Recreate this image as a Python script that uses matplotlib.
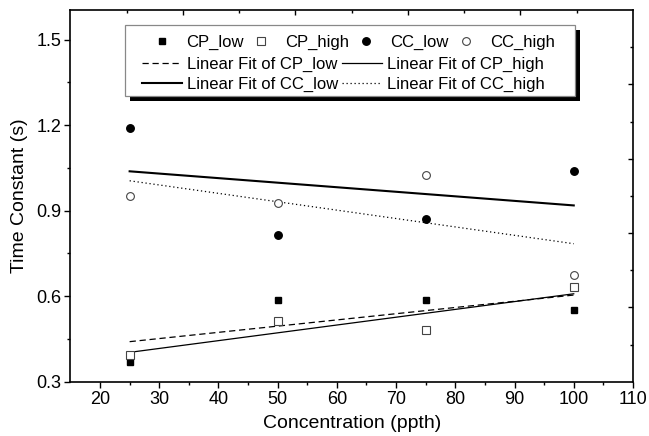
import numpy as np
import matplotlib
matplotlib.use('Agg')
import matplotlib.pyplot as plt
from matplotlib.patches import Rectangle
from matplotlib.lines import Line2D

plt.rcParams['font.family'] = ['Liberation Sans', 'DejaVu Sans']

conc = [25, 50, 75, 100]
cp_low = [0.368, 0.586, 0.585, 0.550]
cp_high = [0.395, 0.512, 0.483, 0.633]
cc_low = [1.189, 0.816, 0.870, 1.038]
cc_high = [0.951, 0.928, 1.026, 0.673]

x_ticks = [20, 30, 40, 50, 60, 70, 80, 90, 100, 110]
y_ticks = [0.3, 0.6, 0.9, 1.2, 1.5]

fig = plt.figure(figsize=(6.49, 4.36), dpi=100)
ax = fig.add_axes([0.1085, 0.1245, 0.8668, 0.8526])

ms = 4.8
ax.plot(conc, cp_low, ls='none', marker='s', ms=ms, mfc='black', mec='black', zorder=3)
ax.plot(conc, cp_high, ls='none', marker='s', ms=ms + 0.6, mfc='white', mec='#444444', mew=0.8, zorder=3)
ax.plot(conc, cc_low, ls='none', marker='o', ms=ms + 0.6, mfc='black', mec='black', zorder=3)
ax.plot(conc, cc_high, ls='none', marker='o', ms=ms + 0.8, mfc='white', mec='#444444', mew=0.8, zorder=3)

xs = np.array([conc[0], conc[-1]])
fits = [
    (cp_low, dict(color='black', lw=0.9, ls=(0, (5, 3)))),
    (cp_high, dict(color='black', lw=0.9, ls='-')),
    (cc_low, dict(color='black', lw=1.5, ls='-')),
    (cc_high, dict(color='black', lw=0.9, ls=(0, (1, 2.2)))),
]
for ys, style in fits:
    k, b = np.polyfit(conc, ys, 1)
    ax.plot(xs, k * xs + b, **style, zorder=2)

ax.set_xlim(15, 110)
ax.set_ylim(0.3, 1.604)
ax.set_xticks(x_ticks)
ax.set_xticks(np.arange(25, 110, 10), minor=True)
ax.set_yticks(y_ticks)
ax.set_yticks([0.45, 0.75, 1.05, 1.35], minor=True)
ax.set_yticklabels([f'{v:.1f}' for v in y_ticks])
ax.tick_params(which='major', direction='out', length=4.5, width=1.0, labelsize=13, pad=2)
ax.tick_params(which='minor', direction='out', length=2.5, width=1.0)
for s in ax.spines.values():
    s.set_linewidth(1.2)

ax.set_xlabel('Concentration (ppth)', fontsize=14, labelpad=5)
ax.set_ylabel('Time Constant (s)', fontsize=14, labelpad=6)

# decorative inward ticks on top and right edges
top = ax.twiny()
top.set_xlim(0, 10)
top.set_xticks([2, 4, 6, 8])
top.set_xticks([1, 3, 5, 7, 9], minor=True)
top.tick_params(which='major', direction='in', length=3.5, width=1.0, labeltop=False)
top.tick_params(which='minor', direction='in', length=2.0, width=1.0)
right = ax.twinx()
right.set_ylim(0, 10)
right.set_yticks([2, 4, 6, 8])
right.set_yticks([1, 3, 5, 7, 9], minor=True)
right.tick_params(which='major', direction='in', length=3.5, width=1.0, labelright=False)
right.tick_params(which='minor', direction='in', length=2.0, width=1.0)
for a in (top, right):
    for s in a.spines.values():
        s.set_visible(False)

# legend box with shadow
bx0, by0, bx1, by1 = 0.0970, 0.7686, 0.8970, 0.9597
dx, dy = 5 / 562.6, 5 / 371.7
right.add_patch(Rectangle((bx0 + dx, by0 - dy), bx1 - bx0, by1 - by0, transform=ax.transAxes,
                          facecolor='black', edgecolor='none', zorder=5))
right.add_patch(Rectangle((bx0, by0), bx1 - bx0, by1 - by0, transform=ax.transAxes,
                          facecolor='white', edgecolor='#888888', lw=0.9, zorder=6))

mk_handles = [
    Line2D([], [], ls='none', marker='s', ms=ms, mfc='black', mec='black'),
    Line2D([], [], ls='none', marker='s', ms=ms + 0.6, mfc='white', mec='#444444', mew=0.8),
    Line2D([], [], ls='none', marker='o', ms=ms + 0.6, mfc='black', mec='black'),
    Line2D([], [], ls='none', marker='o', ms=ms + 0.8, mfc='white', mec='#444444', mew=0.8),
]
mk_labels = ['CP_low', 'CP_high', 'CC_low', 'CC_high']
leg1 = right.legend(mk_handles, mk_labels, ncol=4, frameon=False, fontsize=12,
                    loc='center left', bbox_to_anchor=(0.1326, 0.9120), bbox_transform=ax.transAxes,
                    borderpad=0, borderaxespad=0, handlelength=2.0, handletextpad=0.44,
                    columnspacing=0.05)
leg1.set_zorder(7)
right.add_artist(leg1)

fit_handles = [Line2D([], [], **st) for _, st in fits]
fit_labels = ['Linear Fit of CP_low', 'Linear Fit of CC_low',
              'Linear Fit of CP_high', 'Linear Fit of CC_high']
fit_handles = [fit_handles[0], fit_handles[2], fit_handles[1], fit_handles[3]]
leg2 = right.legend(fit_handles, fit_labels, ncol=2, frameon=False, fontsize=12,
                    loc='center left', bbox_to_anchor=(0.1273, 0.8270), bbox_transform=ax.transAxes,
                    borderpad=0, borderaxespad=0, handlelength=2.4, handletextpad=0.3,
                    columnspacing=0.2, labelspacing=0.25)
leg2.set_zorder(7)

fig.savefig('out.png', dpi=100)
